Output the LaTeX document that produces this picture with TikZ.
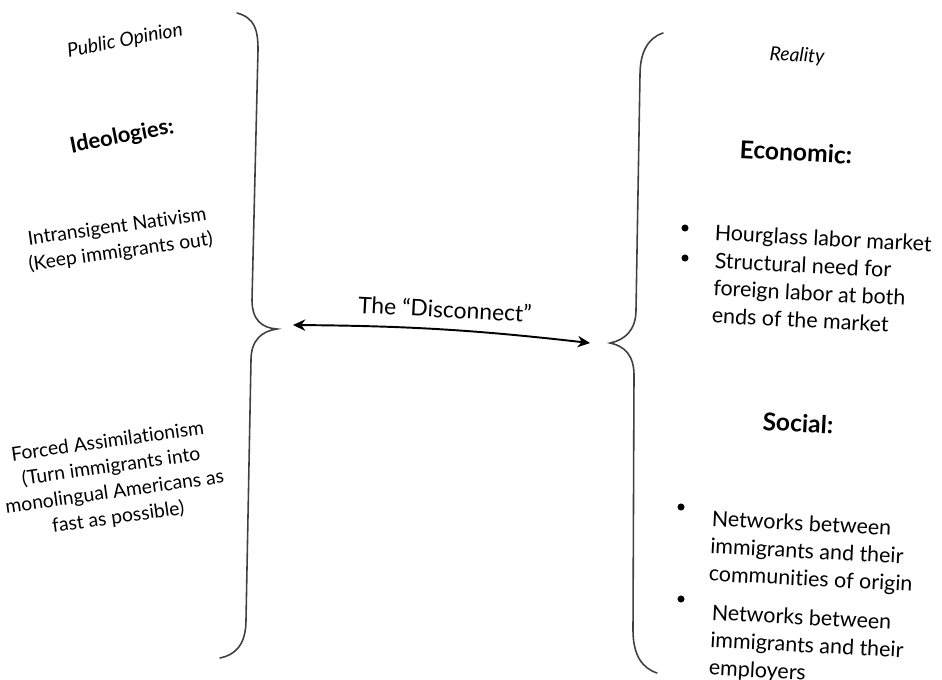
\documentclass[tikz,border=0pt]{standalone}
\usepackage{fontspec}
\setmainfont[Ligatures={TeX,NoCommon}]{Lato}
\usetikzlibrary{arrows.meta}
\tikzset{
        >={Stealth[length=7pt, width=6.5pt]}, % makes the arrow heads bold
        brace/.style={draw=black!75, line width=0.9pt, line cap=round}, % the two big curly braces
        opinion/.style={align=center, font=\fontsize{11}{14.5}\selectfont, rotate=8},
        side title/.style={font=\itshape\fontsize{11}{13}\selectfont},
        heading/.style={font=\bfseries\fontsize{14}{16}\selectfont},
        item/.style={
                align=left,
                anchor=north west,
                inner sep=0pt,
                rotate=-3,
                font=\fontsize{12.2}{15.6}\selectfont,
        },
        bullet/.style={circle, fill=black, inner sep=0pt, minimum size=4pt},
}

\begin{document}
\begin{tikzpicture}[x=0.2mm, y=-0.2mm]
    \useasboundingbox (0,0) rectangle (942,679);

    % public opinion side
    \node [side title, rotate=11] (pub) at (125,41) {Public Opinion};
    \node [heading, font=\bfseries\fontsize{12.5}{15}\selectfont, rotate=11] (ideo) at (122,137) {Ideologies:};
    \node [opinion] (nativ) at (119,240) {Intransigent Nativism\\(Keep immigrants out)};
    \node [opinion] (assim) at (113,480) {Forced Assimilationism\\(Turn immigrants into\\monolingual Americans as\\fast as possible)};

    % reality side
    \node [side title, rotate=-3] (real) at (797,56) {Reality};
    \node [heading, rotate=-3] (econ) at (796,152) {Economic:};
    \node [heading, rotate=-3] (soc) at (798,423) {Social:};

    \node [item] (t1) at (715,224) {Hourglass labor market};
    \node [item] (t2) at (715,252) {Structural need for\\foreign labor at both\\ends of the market};
    \node [item] (t3) at (712,510) {Networks between\\immigrants and their\\communities of origin};
    \node [item] (t4) at (712,604) {Networks between\\immigrants and their\\employers};
    \node [bullet] (b1) at (685,228) {};
    \node [bullet] (b2) at (685,258) {};
    \node [bullet] (b3) at (681,507) {};
    \node [bullet] (b4) at (681,599) {};

    % braces
    \draw [brace] (237,13) .. controls (255,18) and (258,30) .. (258,50)
        -- (252,300) .. controls (252,320) and (262,328) .. (277,329)
        coordinate (ltip)
        .. controls (262,331) and (251,340) .. (251,360)
        -- (246,620) .. controls (246,645) and (235,655) .. (220,658);
    \draw [brace] (663,33) .. controls (648,38) and (640,52) .. (640,75)
        -- (636,310) .. controls (636,330) and (625,340) .. (610,343)
        coordinate (rtip)
        .. controls (625,346) and (634,356) .. (634,375)
        -- (633,630) .. controls (633,655) and (642,668) .. (657,673);

    % the disconnect
    \coordinate (from) at (293,325);
    \coordinate (to) at (590,343);
    \draw [<->, line width=1.1pt] (from) to [bend left=3] (to);
    \node [font=\fontsize{13}{15}\selectfont, rotate=-3] (gap) at (445,309) {The ``Disconnect''};
\end{tikzpicture}
\end{document}
